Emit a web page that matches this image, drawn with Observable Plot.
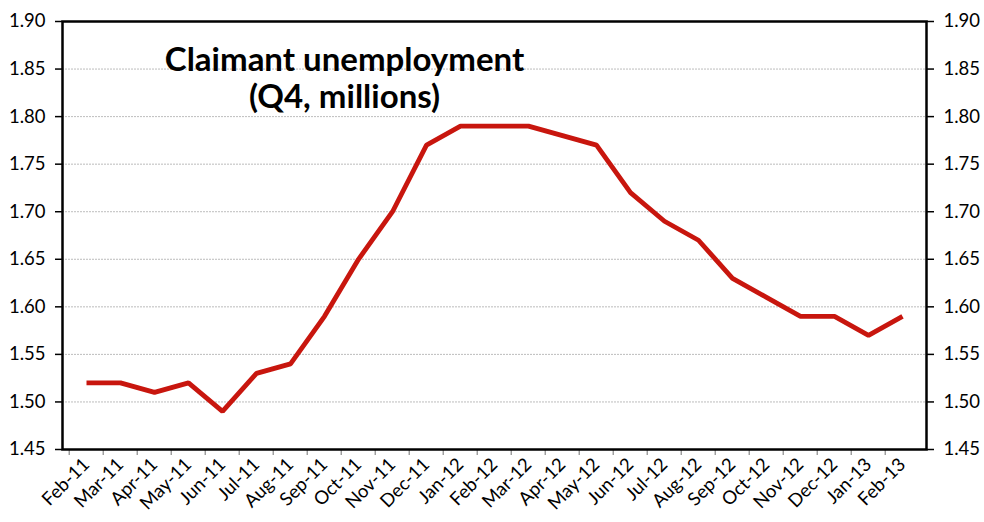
<!DOCTYPE html>
<html>
<head>
<meta charset="utf-8">
<script src="https://cdn.jsdelivr.net/npm/d3@7"></script>
<script src="https://cdn.jsdelivr.net/npm/@observablehq/plot@0.6"></script>
<style>
  html, body { margin: 0; padding: 0; background: #fff; }
  #chart { width: 984px; height: 522px; }
  svg { font-family: Lato, "Open Sans", sans-serif; }
</style>
</head>
<body>
<div id="chart"></div>
<script>
const months = ["Feb-11","Mar-11","Apr-11","May-11","Jun-11","Jul-11","Aug-11","Sep-11","Oct-11","Nov-11","Dec-11","Jan-12","Feb-12","Mar-12","Apr-12","May-12","Jun-12","Jul-12","Aug-12","Sep-12","Oct-12","Nov-12","Dec-12","Jan-13","Feb-13"];
const claimants = [1.52,1.52,1.51,1.52,1.49,1.53,1.54,1.59,1.65,1.70,1.77,1.79,1.79,1.79,1.78,1.77,1.72,1.69,1.67,1.63,1.61,1.59,1.59,1.57,1.59];
const yTicks = [1.45,1.50,1.55,1.60,1.65,1.70,1.75,1.80,1.85,1.90];
const gridTicks = [1.50,1.55,1.60,1.65,1.70,1.75,1.80,1.85];
const titleText = "Claimant unemployment\n(Q4, millions)";

const data = months.map((m, i) => ({month: m, value: claimants[i]}));

const W = 984, H = 522, ml = 62, mr = 58, mt = 21, mb = 73;
const step = (W - ml - mr) / months.length;

const chart = Plot.plot({
  width: W,
  height: H,
  marginLeft: ml,
  marginRight: mr,
  marginTop: mt,
  marginBottom: mb,
  style: {fontFamily: "Lato, 'Open Sans', sans-serif", fontSize: "18px", color: "#000", background: "#fff"},
  x: {type: "point", domain: months, padding: 0.5, label: null},
  y: {domain: [1.45, 1.90], label: null},
  marks: [
    Plot.ruleY(gridTicks, {stroke: "#b4b4b4", strokeWidth: 0.9, strokeDasharray: "2,1"}),
    Plot.ruleX(months, {x: d => d, y1: 1.45, y2: 1.45, insetBottom: -6, dx: -step / 2, stroke: "#888", strokeWidth: 1.2}),
    Plot.frame({stroke: "#000", strokeWidth: 2.5}),
    Plot.axisY(yTicks, {anchor: "left", tickSize: 7, tickPadding: 10, tickFormat: d3.format(".2f"), stroke: "#000", strokeWidth: 1.5, fontSize: 18.5, label: null}),
    Plot.axisY(yTicks, {anchor: "right", tickSize: 7, tickPadding: 10, tickFormat: d3.format(".2f"), stroke: "#000", strokeWidth: 1.5, fontSize: 18.5, label: null}),
    Plot.axisX(months, {tickSize: 0, tickPadding: 12, tickRotate: -45, fontSize: 18.5, label: null}),
    Plot.line(data, {x: "month", y: "value", stroke: "#c8160e", strokeWidth: 4.8, strokeLinejoin: "miter", strokeLinecap: "butt"}),
    Plot.text([titleText], {frameAnchor: "top", dx: -150, dy: 23, lineAnchor: "top", lineHeight: 1.13, fontSize: 33, fontWeight: "bold", fill: "#000", textAnchor: "middle"})
  ]
});
document.getElementById("chart").appendChild(chart);
</script>
</body>
</html>
